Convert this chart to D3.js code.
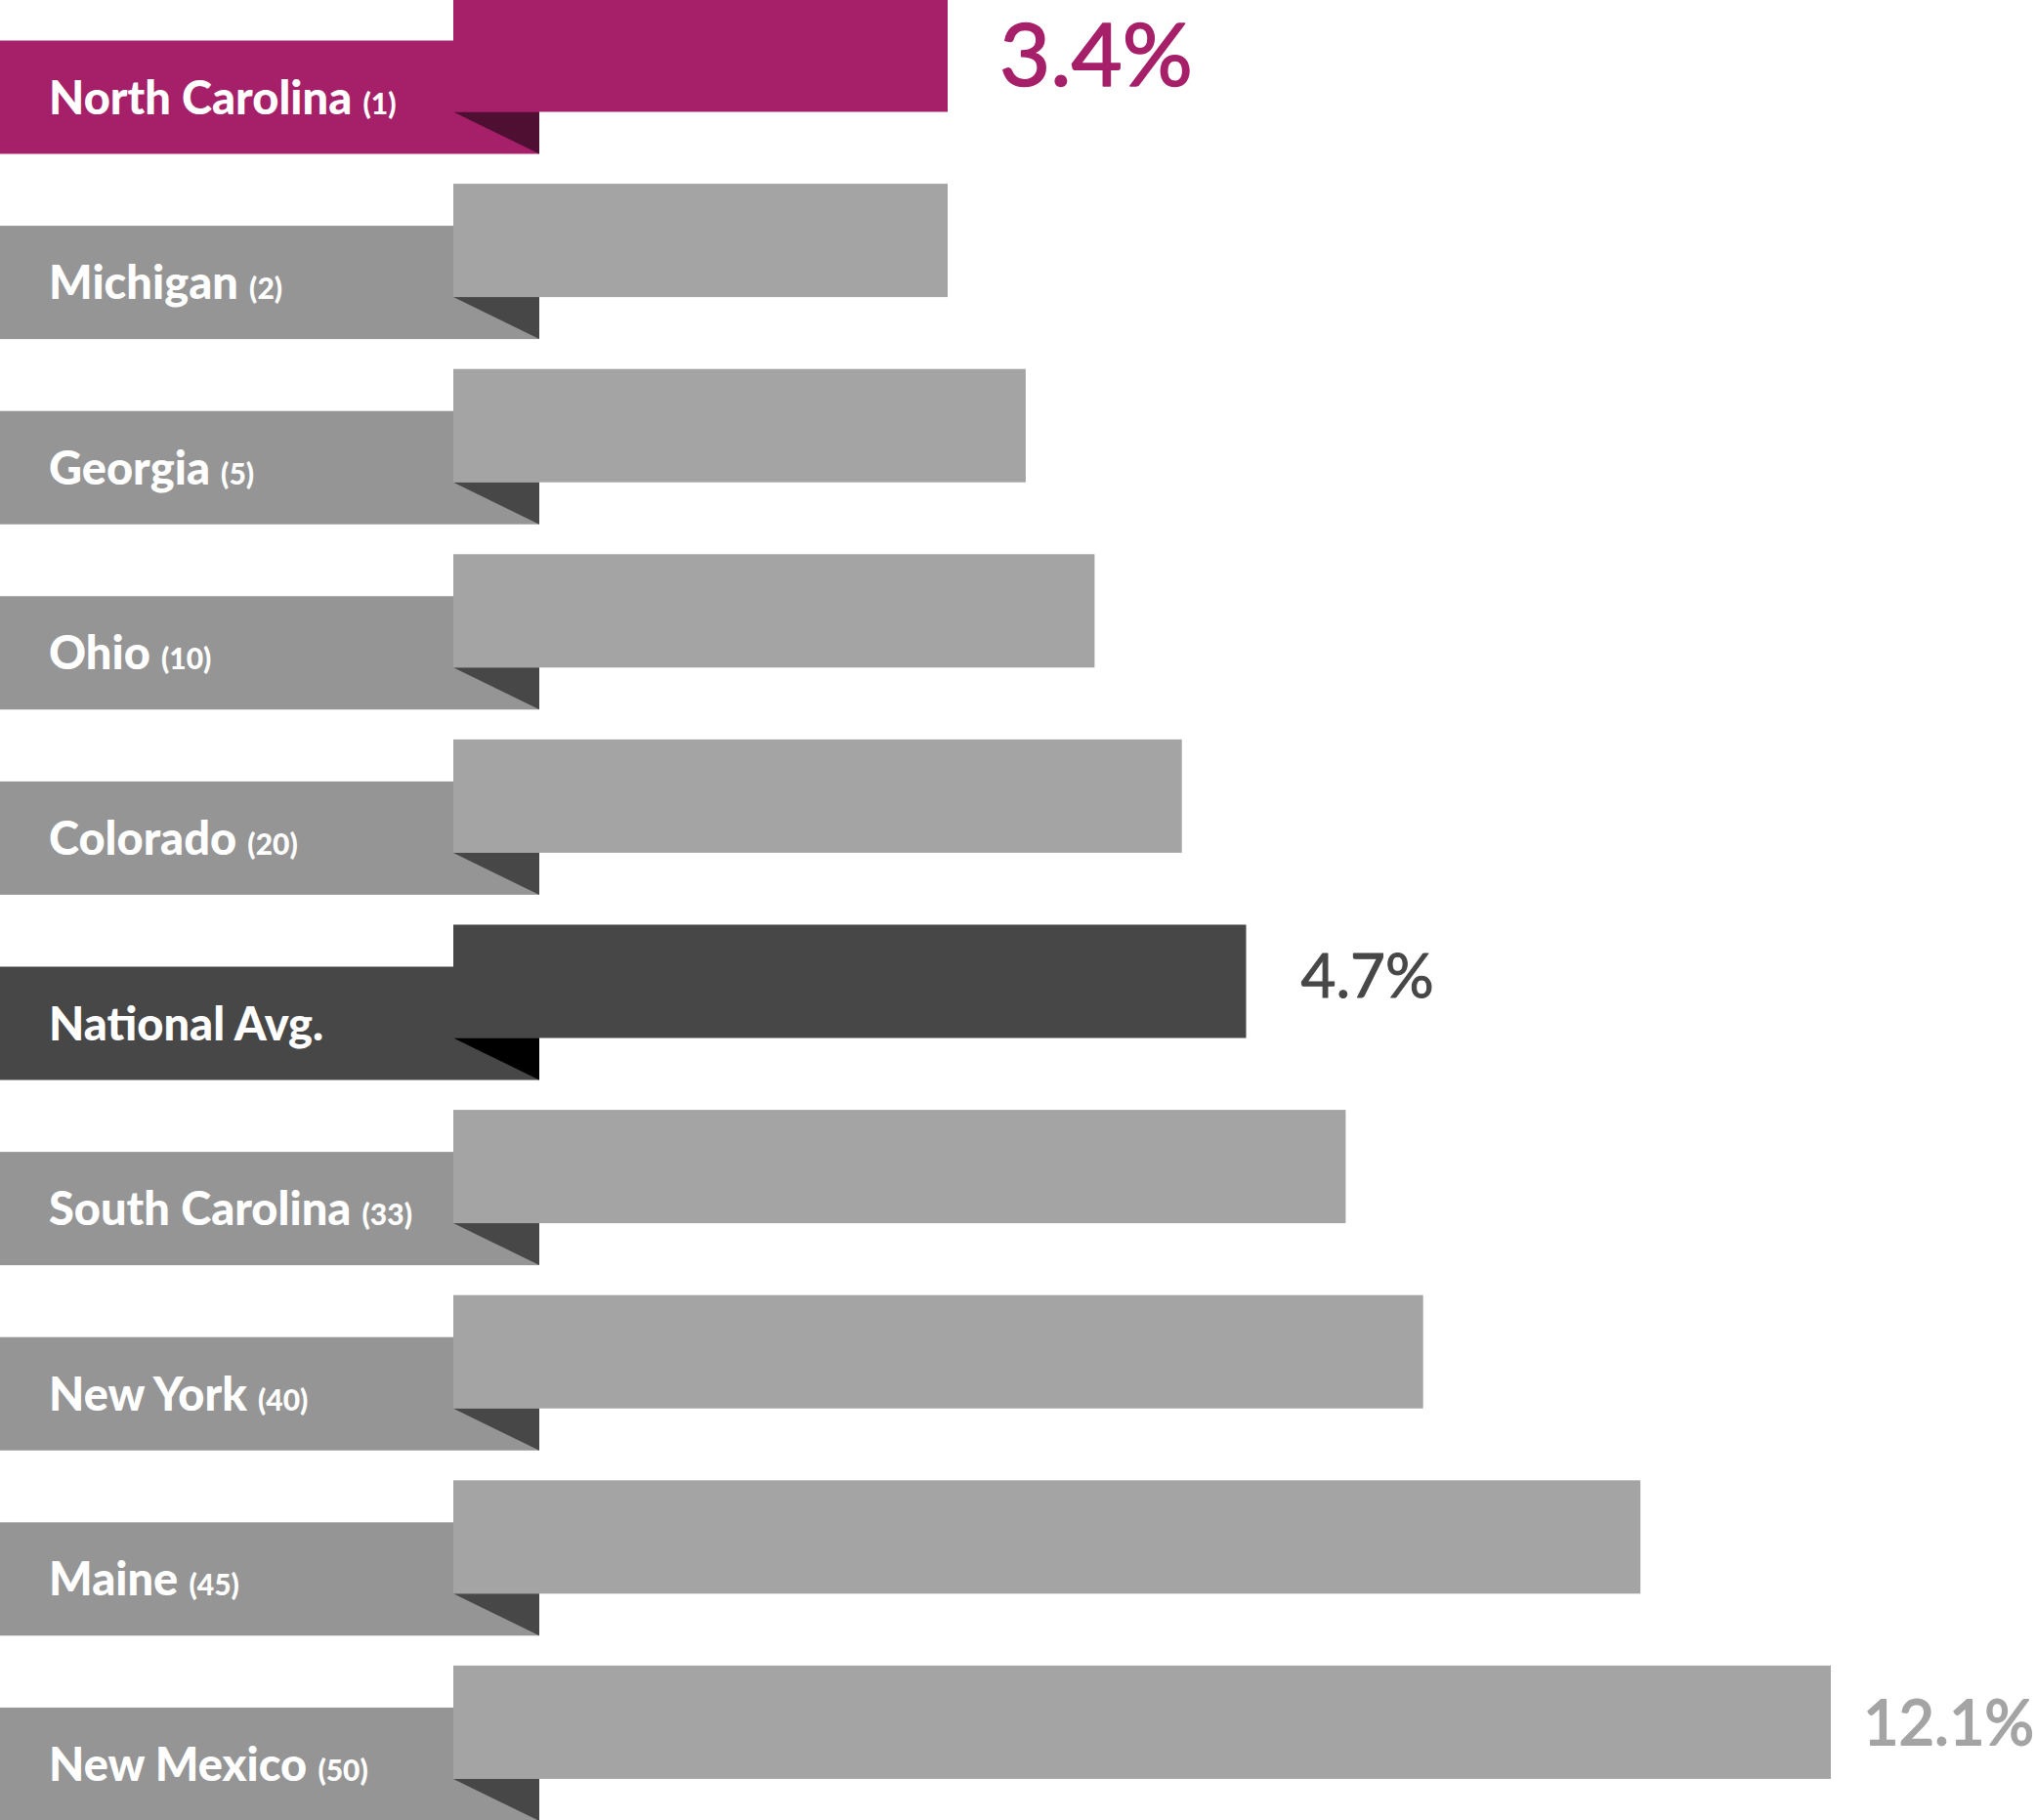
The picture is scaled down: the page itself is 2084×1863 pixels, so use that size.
<!DOCTYPE html>
<html>
<head>
<meta charset="utf-8">
<script src="https://cdn.jsdelivr.net/npm/d3@7"></script>
<style>
  html, body { margin: 0; padding: 0; background: #fff; }
  svg { display: block; font-family: Lato, "Open Sans", sans-serif; }
</style>
</head>
<body>
<svg id="chart" width="2084" height="1863"></svg>
<script>
// ---- data ----
const states = ["North Carolina", "Michigan", "Georgia", "Ohio", "Colorado", "National Avg.", "South Carolina", "New York", "Maine", "New Mexico"];
const ranks  = [1, 2, 5, 10, 20, null, 33, 40, 45, 50];
const values = [3.4, 3.4, 3.74, 4.04, 4.42, 4.7, 5.96, 6.94, 9.69, 12.1];
const valueLabels = ["3.4%", null, null, null, null, "4.7%", null, null, null, "12.1%"];
// bar-length anchors (infographic is not drawn to a single linear scale)
const scaleAnchors = [3.4, 4.7, 12.1];

// ---- styles ----
const barX0 = 464, labelW = 552, barH = 116, labelOffset = 43;
const kinds = states.map((s, i) => i === 0 ? "hl" : (s === "National Avg." ? "avg" : "norm"));
const colors = {
  hl:   { bar: "#A61F69", label: "#A61F69", fold: "#4F0F33", text: "#A61F69" },
  avg:  { bar: "#474747", label: "#474747", fold: "#000000", text: "#474747" },
  norm: { bar: "#A4A4A4", label: "#959595", fold: "#474747", text: "#A4A4A4" }
};
const valueStyle = {
  hl:   { size: 90, dx: 53, dy: -1, stroke: 1.6 },
  avg:  { size: 62, dx: 56, dy: -6, stroke: 1.0 },
  norm: { size: 63, dx: 33, dy: 0, stroke: 1.8 }
};

const svg = d3.select("#chart");

const x = d3.scaleLinear().domain(scaleAnchors).range([970, 1275.5, 1874]);
const y = d3.scalePoint().domain(states).range([-1.5, 1704.9]);

const rows = svg.selectAll("g.row")
  .data(states.map((s, i) => ({ name: s, rank: ranks[i], value: values[i], label: valueLabels[i], kind: kinds[i] })))
  .join("g")
  .attr("class", "row");

// label ribbon
rows.append("rect")
  .attr("x", 0)
  .attr("y", d => y(d.name) + labelOffset)
  .attr("width", labelW)
  .attr("height", barH)
  .attr("fill", d => colors[d.kind].label);

// fold triangle
rows.append("path")
  .attr("d", d => {
    const b = y(d.name) + barH;
    return `M${barX0},${b}L${labelW},${b}L${labelW},${b + labelOffset}Z`;
  })
  .attr("fill", d => colors[d.kind].fold);

// bar
rows.append("rect")
  .attr("x", barX0)
  .attr("y", d => y(d.name))
  .attr("width", d => x(d.value) - barX0)
  .attr("height", barH)
  .attr("fill", d => colors[d.kind].bar);

// name label
const t = rows.append("text")
  .attr("x", 50)
  .attr("y", d => y(d.name) + 118)
  .attr("fill", "#ffffff")
  .attr("font-weight", 900);
t.append("tspan")
  .attr("font-size", 47)
  .text(d => d.rank != null ? d.name + " " : d.name);
t.filter(d => d.rank != null).append("tspan")
  .attr("font-size", 30)
  .text(d => `(${d.rank})`);

// value labels
rows.filter(d => d.label)
  .append("text")
  .attr("x", d => x(d.value) + valueStyle[d.kind].dx)
  .attr("y", d => y(d.name) + barH / 2 + valueStyle[d.kind].size * 0.36 + valueStyle[d.kind].dy)
  .attr("font-size", d => valueStyle[d.kind].size)
  .attr("font-weight", 400)
  .attr("fill", d => colors[d.kind].text)
  .attr("stroke", d => colors[d.kind].text)
  .attr("stroke-width", d => valueStyle[d.kind].stroke)
  .attr("stroke-linejoin", "round")
  .text(d => d.label);
</script>
</body>
</html>
